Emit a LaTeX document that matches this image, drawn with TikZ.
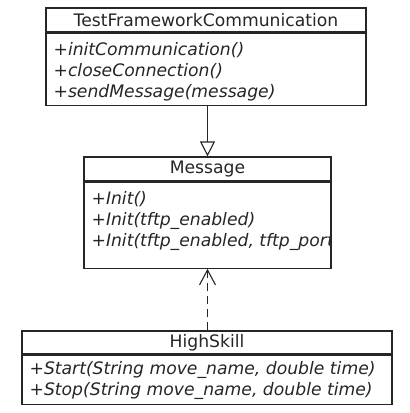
\documentclass[tikz,border=0pt]{standalone}
\usepackage{fontspec}
\setmainfont{DejaVu Sans}
\usepackage{tikz}
\usetikzlibrary{arrows.meta,positioning}

\begin{document}
\begin{tikzpicture}[x=1pt,y=-1pt]
    %styles
    \tikzstyle{classname}=[rectangle,draw=black!85,line width=1.2pt,fill=white,inner sep=0pt,minimum height=24pt,text=black!85,font=\fontsize{17.2}{21}\selectfont]
    \tikzstyle{classops}=[rectangle,draw=black!85,line width=1.2pt,fill=white,inner sep=0pt,anchor=north]
    \tikzstyle{opstext}=[anchor=north west,align=left,inner xsep=8pt,inner ysep=9.5pt,text=black!85,font=\fontsize{17.2}{21}\selectfont]
    \tikzstyle{inherit}=[-{Triangle[open,length=15pt,width=15pt]},line width=1.1pt,black!85]
    \tikzstyle{depend}=[-{Straight Barb[length=15pt,width=16pt]},line width=1.1pt,dash pattern=on 8pt off 5pt,black!85]
    \useasboundingbox (0,0) rectangle (410,413);
    %nodes
    \node[classname,minimum width=320pt] (tfc) at (206,20) {TestFrameworkCommunication};
    \node[classops,minimum width=320pt,minimum height=72pt] (tfcops) at (tfc.south) {};
    \node[opstext] (tfctext) at (tfcops.north west) {+\textit{initCommunication()}\\+\textit{closeConnection()}\\+\textit{sendMessage(message)}};

    \node[classname,minimum width=247pt] (msg) at (207.5,169) {Message};
    \node[classops,minimum width=247pt,minimum height=86pt] (msgops) at (msg.south) {};
    \begin{scope}
      \clip (msgops.north west) rectangle (msgops.south east);
      \node[opstext] (msgtext) at (msgops.north west) {+\textit{Init()}\\+\textit{Init(tftp\_enabled)}\\+\textit{Init(tftp\_enabled, tftp\_port)}};
    \end{scope}

    \node[classname,minimum width=370pt,minimum height=23pt] (hs) at (207,342.5) {HighSkill};
    \node[classops,minimum width=370pt,minimum height=49pt] (hsops) at (hs.south) {};
    \node[opstext,inner ysep=7pt] (hstext) at (hsops.north west) {+\textit{Start(String move\_name, double time)}\\+\textit{Stop(String move\_name, double time)}};

    %arrows
    \draw[inherit] (tfcops.south -| msg.north) -- (msg.north);
    \draw[depend]  (hs.north -| msgops.south) -- (msgops.south);
\end{tikzpicture}
\end{document}
